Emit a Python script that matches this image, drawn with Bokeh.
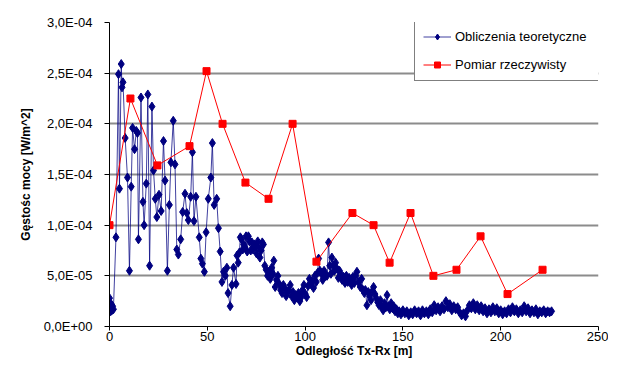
from bokeh.plotting import figure
from bokeh.models import Range1d, FixedTicker, Legend, LegendItem
from bokeh.embed import file_html
from bokeh.resources import INLINE

FONT = "Liberation Sans"

# Obliczenia teoretyczne: distance [m] and power density in units of 1e-5 W/m^2
calc_x = [0.0, 0.3, 0.6, 0.9, 1.2, 1.6, 2.0, 3.3, 4.6, 5.1, 6.0, 6.4, 6.9, 8.0, 9.2, 10.2,
          11.1, 11.8, 12.8, 13.7, 14.3, 14.8, 16.1, 17.1, 17.7, 18.8, 19.6, 20.5, 21.7, 22.5,
          23.4, 24.2, 25.3, 26.4, 27.6, 28.4, 29.6, 30.6, 31.4, 32.6, 33.5, 34.4, 35.2, 36.4,
          37.4, 38.6, 39.5, 40.3, 41.5, 42.4, 43.2, 44.2, 45.9, 46.7, 47.5, 48.5, 49.4, 50.5,
          51.8, 52.6, 53.5, 54.8, 55.7, 56.6, 57.5, 58.3, 59.2, 60.0, 60.6, 61.7, 62.6, 63.4,
          64.7, 65.2, 65.8, 66.4, 66.9, 67.5, 68.1, 68.6, 69.2, 69.8, 70.4, 71.0, 71.6, 72.2,
          72.8, 73.4, 74.0, 74.6, 75.2, 75.8, 76.3, 76.9, 77.5, 78.1, 78.7, 79.4, 80.1, 80.8,
          81.5, 82.2, 82.9, 83.6, 84.0, 84.7, 85.4, 86.1, 86.8, 87.5, 88.2, 88.9, 89.6, 90.3,
          91.0, 91.7, 92.4, 93.1, 93.8, 94.5, 95.2, 95.9, 96.6, 97.3, 98.0, 98.7, 99.4, 100.1,
          100.8, 101.5, 102.2, 102.9, 103.6, 104.3, 105.0, 105.7, 106.4, 106.9, 107.6, 108.3,
          109.0, 109.7, 110.4, 111.2, 112.0, 112.6, 113.2, 113.7, 114.4, 115.0, 115.6, 116.3,
          117.0, 117.6, 118.2, 118.9, 119.7, 120.4, 121.1, 121.8, 122.5, 123.1, 123.8, 124.5,
          125.2, 125.9, 126.5, 127.2, 128.2, 128.9, 129.6, 130.3, 130.8, 131.6, 132.3, 133.0,
          133.7, 134.4, 135.0, 135.7, 136.4, 137.1, 137.8, 138.5, 139.2, 139.9, 140.6, 141.3,
          141.9, 142.6, 143.3, 144.0, 144.7, 145.3, 146.0, 146.7, 147.4, 148.1,
          149, 150, 151, 152, 153, 154, 155, 156, 157, 158, 159, 160, 161, 162, 163, 164, 165,
          166, 167, 168, 169, 170, 171, 172, 173, 174, 175, 176, 177, 178, 179, 180, 181, 182,
          183, 184, 185, 186, 187, 188, 189, 190, 191, 192, 193, 194, 195, 196, 197, 198, 199,
          200, 201, 202, 203, 204, 205, 206, 207, 208, 209, 210, 211, 212, 213, 214, 215, 216,
          217, 218, 219, 220, 221, 222, 223, 224, 225, 226]
calc_y_e5 = [2.8, 1.9, 1.5, 2.2, 1.6, 2.0, 1.7, 8.8, 24.9, 13.6, 25.9, 23.6, 24.1, 18.6, 14.7, 5.5,
             13.8, 19.6, 17.5, 19.3, 19.1, 8.6, 22.6, 12.3, 10.0, 14.1, 22.9, 6.0, 21.7, 15.4,
             12.6, 10.8, 13.0, 11.4, 18.3, 14.4, 5.5, 12.0, 16.2, 20.3, 16.0, 7.6, 7.1, 8.6,
             11.3, 13.1, 11.2, 10.5, 12.8, 17.2, 10.4, 12.8, 8.8, 6.7, 6.2, 5.4, 9.3, 12.6,
             14.7, 18.1, 12.0, 12.6, 9.7, 7.4, 4.4, 5.4, 5.0, 5.8, 3.3, 2.0, 4.1, 5.8,
             4.2, 7.0, 6.3, 7.3, 8.8, 8.6, 7.6, 8.1, 7.8, 8.9, 7.4, 8.9, 8.4, 7.5,
             8.3, 7.6, 8.1, 7.9, 7.2, 8.4, 7.8, 6.8, 7.5, 8.3, 8.1, 6.0, 5.6, 5.0,
             5.4, 4.7, 5.8, 5.2, 6.5, 3.9, 4.6, 5.0, 4.2, 3.6, 3.3, 4.1, 3.8, 3.0,
             3.4, 3.6, 4.1, 3.0, 3.4, 2.6, 3.1, 2.9, 3.3, 2.5, 2.9, 3.6, 4.1, 3.2,
             2.9, 4.0, 4.7, 4.2, 4.5, 3.8, 5.0, 4.4, 5.3, 6.7, 5.5, 5.2,
             4.6, 5.5, 5.0, 5.0, 8.3, 6.0, 5.2, 6.8, 6.0, 5.5, 6.3, 5.7,
             4.8, 5.5, 5.2, 4.6, 4.9, 4.3, 5.0, 4.4, 4.8, 4.6, 4.1, 4.9,
             4.3, 5.0, 5.4, 4.4, 3.9, 4.7, 3.6, 3.3, 3.6, 2.1, 3.4, 3.0,
             2.6, 3.5, 3.9, 3.2, 2.8, 2.4, 2.1, 2.6, 1.9, 1.6, 2.3, 1.9,
             3.1, 2.0, 1.7, 2.3, 1.8, 2.0, 1.5, 1.7, 1.3, 1.5,
             1.2, 1.6, 1.3, 1.5, 1.1, 1.4, 1.2, 1.6, 1.3, 1.5, 1.1, 1.6, 1.3, 1.5, 1.2, 1.7, 1.4,
             2.1, 1.6, 1.9, 1.5, 2.0, 1.7, 2.5, 1.9, 2.2, 1.6, 2.0, 1.7, 1.9, 1.4, 1.1, 1.3, 1.0,
             1.6, 2.1, 1.8, 2.3, 1.7, 2.1, 1.6, 2.0, 1.5, 1.8, 1.3, 1.7, 1.4, 1.9, 1.5, 1.8, 1.3,
             1.6, 1.2, 1.5, 1.3, 1.7, 1.4, 1.9, 1.5, 1.7, 1.3, 1.6, 1.4, 2.0, 1.5, 1.8, 1.3, 1.6,
             1.4, 1.7, 1.2, 1.5, 1.4, 1.6, 1.3, 1.5, 1.4, 1.5]

# Pomiar rzeczywisty
meas_x = [0.0, 10.7, 24.5, 40.9, 49.6, 57.8, 69.5, 81.3, 93.6, 105.8, 124.2, 135.0, 143.2,
          153.9, 165.6, 177.4, 189.7, 203.5, 221.4]
meas_y_e5 = [10.0, 22.5, 15.9, 17.8, 25.2, 20.0, 14.2, 12.6, 20.0, 6.4, 11.2, 10.0, 6.3,
             11.2, 5.0, 5.6, 8.9, 3.2, 5.6]

x_ticks = [0, 50, 100, 150, 200, 250]
y_ticks = [0.0, 5e-05, 1e-04, 1.5e-04, 2e-04, 2.5e-04, 3e-04]
y_tick_labels = ["0,0E+00", "5,0E-05", "1,0E-04", "1,5E-04", "2,0E-04", "2,5E-04", "3,0E-04"]

calc_y = [v * 1e-5 for v in calc_y_e5]
meas_y = [v * 1e-5 for v in meas_y_e5]

p = figure(width=608, height=360, x_range=Range1d(0, 250), y_range=Range1d(0, 3e-4),
           output_backend="svg", toolbar_location=None,
           min_border_left=109, min_border_right=10, min_border_top=22, min_border_bottom=34)
p.background_fill_color = "white"
p.border_fill_color = "white"
p.outline_line_color = None

p.xaxis.ticker = FixedTicker(ticks=x_ticks)
p.yaxis.ticker = FixedTicker(ticks=y_ticks)
p.yaxis.major_label_overrides = dict(zip(y_ticks, y_tick_labels))

for ax in (p.xaxis[0], p.yaxis[0]):
    ax.axis_line_color = "black"
    ax.axis_line_width = 1
    ax.major_tick_line_color = "black"
    ax.major_tick_in = 0
    ax.major_tick_out = 5
    ax.minor_tick_line_color = None
    ax.major_label_text_font = FONT
    ax.major_label_text_font_size = "13px"
    ax.major_label_text_color = "black"
    ax.axis_label_text_font = FONT
    ax.axis_label_text_font_size = "12px"
    ax.axis_label_text_font_style = "bold"
    ax.axis_label_text_color = "black"

p.xaxis.axis_label = "Odległość Tx-Rx [m]"
p.yaxis.axis_label = "Gęstośc mocy [W/m^2]"
p.xaxis.major_tick_out = 4
p.xaxis.major_label_standoff = 1
p.xaxis.axis_label_standoff = 0
p.yaxis.major_label_standoff = 12
p.yaxis.axis_label_standoff = 8

p.xgrid.grid_line_color = None
p.ygrid.grid_line_color = "#8c8c8c"
p.ygrid.grid_line_width = 2

bl = p.line(calc_x, calc_y, line_color="#000080", line_width=1, line_alpha=0.75)
bm = p.scatter(calc_x, calc_y, marker="diamond", size=9, fill_color="#000080", line_color="#000080")
rl = p.line(meas_x, meas_y, line_color="#ff0000", line_width=1)
rm = p.scatter(meas_x, meas_y, marker="square", size=7, fill_color="#ff0000", line_color="#ff0000")

legend = Legend(items=[LegendItem(label="Obliczenia teoretyczne", renderers=[bl, bm]),
                       LegendItem(label="Pomiar rzeczywisty", renderers=[rl, rm])],
                location=(305, 245), margin=0, padding=8, spacing=13,
                glyph_width=28, glyph_height=15, label_height=15, label_width=144,
                label_standoff=4, border_line_color="black", border_line_width=1,
                background_fill_color="white", background_fill_alpha=1,
                label_text_font=FONT, label_text_font_size="13px", label_text_color="black")
p.add_layout(legend)

open("out.html", "w").write(file_html(p, INLINE))
